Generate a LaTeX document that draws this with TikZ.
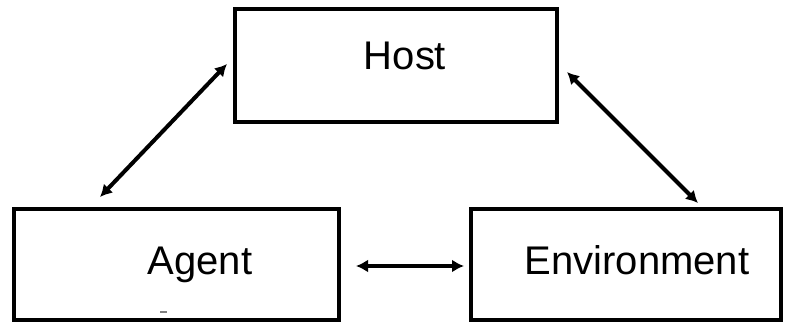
\documentclass[tikz,border=0pt]{standalone}
\usepackage{fontspec}
\setmainfont{Liberation Sans}
\usetikzlibrary{arrows.meta}
\begin{document}
\begin{tikzpicture}[x=1pt,y=-1pt,
  box/.style={draw=black,line width=3.5pt,inner sep=0pt,minimum width=#1,minimum height=111pt},
  conn/.style={line width=4pt,{Latex[length=12pt,width=13pt]}-{Latex[length=12pt,width=13pt]}},
  lbl/.style={font=\fontsize{40}{40}\selectfont,anchor=base}]
\useasboundingbox (0,0) rectangle (785,323);
\node[box=322pt,minimum height=113pt] (host) at (396,65.5) {};
\node[box=325pt] (agent) at (176.5,264.5) {};
\node[box=310pt] (env) at (626,264.5) {};
\node[lbl] (hostt) at (405,70) {Host};
\node[lbl] (agentt) at (200,275) {Agent};
\node[lbl] (envt) at (637,275) {Environment};
\draw[gray,line width=1.5pt] (160,312) -- (167,312);
\coordinate (a1) at (100,197);
\coordinate (h1) at (227,64);
\coordinate (h2) at (567,72);
\coordinate (e1) at (698,203);
\coordinate (a2) at (356,266);
\coordinate (e2) at (464,266);
\draw[conn] (a1) -- (h1);
\draw[conn] (h2) -- (e1);
\draw[conn] (a2) -- (e2);
\end{tikzpicture}
\end{document}
